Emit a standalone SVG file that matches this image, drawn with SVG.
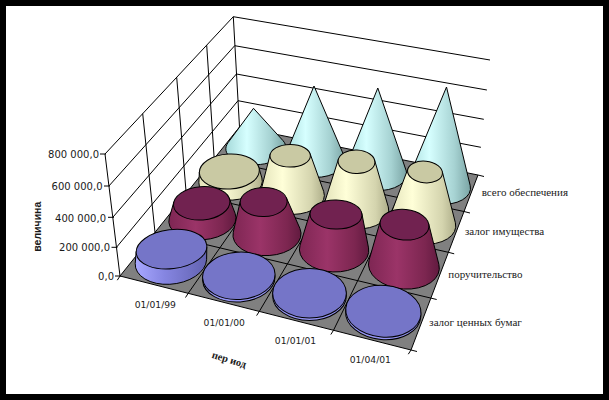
<svg xmlns="http://www.w3.org/2000/svg" width="609" height="400" viewBox="0 0 609 400">
<defs>
<style>
.ln{stroke:#000;stroke-width:1;fill:none}
.ob{stroke:#000;stroke-width:1;stroke-linejoin:round}
.vl{font-family:"DejaVu Sans",Verdana,sans-serif;font-size:10px;fill:#1a1a1a}
.cl{font-family:"DejaVu Sans",Verdana,sans-serif;font-size:9.2px;fill:#1a1a1a}
.sl{font-family:"Liberation Serif","Times New Roman",serif;font-size:11px;fill:#1a1a1a}
.cy{fill:url(#gCyan)}
.ye{fill:url(#gYel)}
.ma{fill:url(#gMar)}
.bl{fill:url(#gBlue)}
.yt{fill:#c9c9a3}
.mt{fill:#712250}
.bt{fill:#7575c8}
.br{fill:#9494f2}
</style>
<linearGradient id="gCyan" x1="0" y1="0" x2="1" y2="0">
<stop offset="0" stop-color="#a6dada"/><stop offset="0.35" stop-color="#d6ffff"/><stop offset="0.75" stop-color="#a6d2d2"/><stop offset="1" stop-color="#7aa4a4"/>
</linearGradient>
<linearGradient id="gYel" x1="0" y1="0" x2="1" y2="0">
<stop offset="0" stop-color="#e2e2ba"/><stop offset="0.35" stop-color="#ffffd8"/><stop offset="0.8" stop-color="#d4d4ae"/><stop offset="1" stop-color="#aeae8a"/>
</linearGradient>
<linearGradient id="gMar" x1="0" y1="0" x2="1" y2="0">
<stop offset="0" stop-color="#7e2653"/><stop offset="0.4" stop-color="#9b3468"/><stop offset="0.8" stop-color="#7c2650"/><stop offset="1" stop-color="#611a3f"/>
</linearGradient>
<linearGradient id="gBlue" x1="0" y1="0" x2="1" y2="0">
<stop offset="0" stop-color="#a8a8ff"/><stop offset="0.4" stop-color="#8686e2"/><stop offset="1" stop-color="#6262b0"/>
</linearGradient>
</defs>
<rect x="0" y="0" width="609" height="400" fill="#fff"/>
<rect x="3" y="3" width="603" height="394" fill="none" stroke="#000" stroke-width="6"/>

<g id="walls" class="ln">
<line x1="105" y1="154" x2="233.3" y2="16.7"/>
<line x1="233.3" y1="16.7" x2="239.5" y2="127"/>
<line x1="233.3" y1="16.7" x2="490" y2="60"/>
<line x1="108.9" y1="186" x2="234.7" y2="45.7"/>
<line x1="112.8" y1="217.3" x2="236.4" y2="74"/>
<line x1="116.5" y1="247.3" x2="238" y2="100.7"/>
<line x1="234.7" y1="45.7" x2="486.9" y2="90"/>
<line x1="236.4" y1="74" x2="483.8" y2="119.3"/>
<line x1="238" y1="100.7" x2="480.9" y2="147.3"/>
<line x1="155" y1="232.4" x2="142.7" y2="113.6"/>
<line x1="186.2" y1="193.4" x2="176.7" y2="77.3"/>
<line x1="214.2" y1="158.5" x2="206.7" y2="45.2"/>
<line x1="120" y1="276" x2="105" y2="154"/>
<line x1="100" y1="154" x2="106" y2="154"/>
<line x1="104" y1="186" x2="110" y2="186"/>
<line x1="108" y1="217.3" x2="114" y2="217.3"/>
<line x1="111.5" y1="247.3" x2="117.5" y2="247.3"/>
<line x1="115" y1="276" x2="121" y2="276"/>
</g>

<g id="floor">
<polygon points="120,276 411,350 478,175 239.5,127" fill="#808080" stroke="#000" stroke-width="1"/>
<g class="ln">
<line x1="188.2" y1="293.3" x2="296.1" y2="138.4"/>
<line x1="259.3" y1="311.4" x2="354.7" y2="150.2"/>
<line x1="333.5" y1="330.3" x2="415.3" y2="162.4"/>
<line x1="155" y1="232.4" x2="430.9" y2="298.1"/>
<line x1="186.2" y1="193.4" x2="448.4" y2="252.3"/>
<line x1="214.2" y1="158.5" x2="464" y2="211.5"/>
<line x1="478" y1="175" x2="484" y2="176.5"/>
<line x1="464" y1="211.5" x2="470" y2="213"/>
<line x1="448.4" y1="252.3" x2="454.2" y2="253.8"/>
<line x1="430.9" y1="298.1" x2="436.7" y2="299.5"/>
<line x1="411" y1="350" x2="417" y2="351.5"/>
<line x1="120" y1="276" x2="117.3" y2="280.2"/>
<line x1="188.2" y1="293.3" x2="185.5" y2="297.5"/>
<line x1="259.3" y1="311.4" x2="256.6" y2="315.6"/>
<line x1="333.5" y1="330.3" x2="330.8" y2="334.5"/>
<line x1="411" y1="350" x2="408.3" y2="354.2"/>
</g>
</g>

<g id="vsego-990101"><path class="ob cy" d="M282.92,140.55 L253.5,108.3 L228.08,142.62 A30.08,16.41,-1.62,1,0,282.92,140.55 Z"/></g>
<g id="vsego-000101"><path class="ob cy" d="M344.37,156.63 L314,86 L284.95,156.38 A30.52,17.02,0.6,1,0,344.37,156.63 Z"/></g>
<g id="vsego-010101"><path class="ob cy" d="M406.18,170.71 L377.8,88 L345.4,168 A31.1,17.6,3.09,1,0,406.18,170.71 Z"/></g>
<g id="vsego-010401"><path class="ob cy" d="M470.23,185.7 L446.5,87 L407.89,179.9 A31.84,18.14,5.74,1,0,470.23,185.7 Z"/></g>

<g id="imush-990101"><path class="ob ye" d="M261.89,177.94 L258.86,167.61 L199.33,172.09 L198.89,182.65 A31.75,18.16,-2.92,1,0,261.89,177.94 Z"/><ellipse class="ob yt" cx="229.3" cy="171.5" rx="30" ry="17.5" transform="rotate(-2.92 229.3 171.5)"/></g>
<g id="imush-000101"><path class="ob ye" d="M323.7,191.46 L309.97,153.38 L270.22,154.22 L260.37,192.85 A32.19,18.91,-0.4,1,0,323.7,191.46 Z"/><ellipse class="ob yt" cx="290.2" cy="155.8" rx="20.2" ry="11.3" transform="rotate(-0.4 290.2 155.8)"/></g>
<g id="imush-010101"><path class="ob ye" d="M388.27,206.85 L374.61,160.21 L338.44,159.12 L323.81,204.84 A32.79,19.62,2.45,1,0,388.27,206.85 Z"/><ellipse class="ob yt" cx="356.5" cy="161.8" rx="18.4" ry="11.8" transform="rotate(2.45 356.5 161.8)"/></g>
<g id="imush-010401"><path class="ob ye" d="M455.38,222.78 L442.24,171.36 L407.98,168.6 L389.61,217.45 A33.59,20.27,5.58,1,0,455.38,222.78 Z"/><ellipse class="ob yt" cx="425" cy="172" rx="17.5" ry="10.8" transform="rotate(5.58 425 172)"/></g>

<g id="poruch-990101"><path class="ob ma" d="M235.15,213.43 L229.24,198.16 L173.88,201.87 L169.31,217.83 A33.66,20.18,-4.59,1,0,235.15,213.43 Z"/><ellipse class="ob mt" cx="201.7" cy="203.3" rx="28.3" ry="16.7" transform="rotate(-4.59 201.7 203.3)"/></g>
<g id="poruch-000101"><path class="ob ma" d="M299.88,228.34 L286.37,197.74 L240.43,200.42 L233.26,232.22 A34.08,21.1,-1.8,1,0,299.88,228.34 Z"/><ellipse class="ob mt" cx="263.7" cy="202" rx="23.5" ry="14.6" transform="rotate(-1.8 263.7 202)"/></g>
<g id="poruch-010101"><path class="ob ma" d="M368.53,247.89 L361.8,213.18 L310.46,211.31 L300.04,245.31 A34.69,21.98,1.54,1,0,368.53,247.89 Z"/><ellipse class="ob mt" cx="336" cy="214.5" rx="26" ry="14.6" transform="rotate(1.54 336 214.5)"/></g>
<g id="poruch-010401"><path class="ob ma" d="M438.88,264.42 L428.61,223.56 L380.46,220.6 L369.04,260.19 A35.53,22.78,5.32,1,0,438.88,264.42 Z"/><ellipse class="ob mt" cx="404.5" cy="224.7" rx="24.5" ry="15.3" transform="rotate(5.32 404.5 224.7)"/></g>

<g id="cennye-990101"><path class="ob bl" d="M206.6,259.72 L206.8,247.05 L136.21,251.35 L135.2,263.48 A35.87,22.53,-6.83,1,0,206.6,259.72 Z"/><ellipse class="ob bt" cx="171.5" cy="249.2" rx="35.5" ry="19.5" transform="rotate(-6.83 171.5 249.2)"/></g>
<g id="cennye-000101"><ellipse class="ob br" cx="238.8" cy="278.3" rx="36.26" ry="23.69" transform="rotate(-3.71 238.8 278.3)"/><ellipse class="ob bt" cx="238.8" cy="275.8" rx="36.26" ry="23.69" transform="rotate(-3.71 238.8 275.8)"/></g>
<g id="cennye-010101"><ellipse class="ob br" cx="309.5" cy="295.7" rx="36.85" ry="24.8" transform="rotate(0.1 309.5 295.7)"/><ellipse class="ob bt" cx="309.5" cy="293.2" rx="36.85" ry="24.8" transform="rotate(0.1 309.5 293.2)"/></g>
<g id="cennye-010401"><ellipse class="ob br" cx="383.2" cy="313.8" rx="37.73" ry="25.8" transform="rotate(4.85 383.2 313.8)"/><ellipse class="ob bt" cx="383.4" cy="311.3" rx="37.73" ry="25.8" transform="rotate(4.85 383.4 311.3)"/></g>

<g id="value-labels" class="vl" text-anchor="end">
<text x="99" y="158">800 000,0</text>
<text x="102.5" y="190">600 000,0</text>
<text x="106" y="221.5">400 000,0</text>
<text x="110" y="251">200 000,0</text>
<text x="114" y="279.5">0,0</text>
</g>
<text x="41" y="226.7" transform="rotate(-90 41 226.7)" text-anchor="middle" font-family="'Liberation Sans',Arial,sans-serif" font-size="10.5" font-weight="bold" fill="#1a1a1a">величина</text>
<g id="category-labels" class="cl" text-anchor="middle">
<text x="155.3" y="307.6">01/01/99</text>
<text x="224.2" y="326">01/01/00</text>
<text x="295.5" y="344.3">01/01/01</text>
<text x="370.3" y="363.3">01/04/01</text>
</g>
<text x="229" y="363" transform="rotate(17 229 360)" text-anchor="middle" font-family="'Liberation Serif','Times New Roman',serif" font-size="10.5" font-weight="bold" fill="#1a1a1a">пер иод</text>
<g id="series-labels" class="sl">
<text x="481.7" y="195.5">всего обеспечения</text>
<text x="465" y="234.5">залог имущества</text>
<text x="448.3" y="277.5">поручительство</text>
<text x="429.3" y="326">залог ценных бумаг</text>
</g>
</svg>
